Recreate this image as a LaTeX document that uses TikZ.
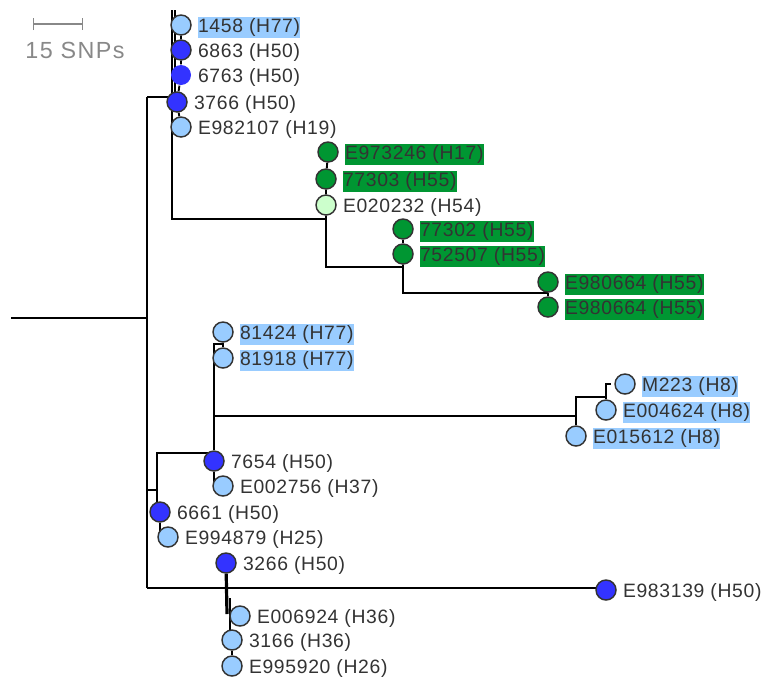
\documentclass[tikz,border=0pt]{standalone}
\usepackage{fontspec}
\setmainfont{Liberation Sans}
\newfontfamily\isofont[LetterSpace=3.5]{Liberation Sans}
\newfontfamily\snpfont[LetterSpace=6]{Liberation Sans}
\usetikzlibrary{arrows.meta,positioning,backgrounds}
\definecolor{hapblue}{RGB}{51,51,255}
\definecolor{haplight}{RGB}{153,204,255}
\definecolor{hapgreen}{RGB}{0,150,50}
\definecolor{happale}{RGB}{204,255,204}
\definecolor{rimgray}{RGB}{51,51,51}
\definecolor{scalegray}{RGB}{136,136,136}

\begin{document}
\begin{tikzpicture}[
    x=0.75pt, y=-0.75pt,
    hap/.style={circle, draw=rimgray, line width=1.1pt, minimum size=15pt, inner sep=0pt},
    lb/.style={hap, fill=haplight},
    bl/.style={hap, fill=hapblue},
    gr/.style={hap, fill=hapgreen},
    pg/.style={hap, fill=happale},
    iso/.style={inner xsep=0pt, inner ysep=0pt, minimum height=15.5pt, yshift=-1.8pt, text=rimgray, font=\isofont\fontsize{14.5}{17}\selectfont},
    hlb/.style={iso, fill=haplight},
    hgr/.style={iso, fill=hapgreen},
    edge/.style={line width=1.4pt, black},
    scalebar/.style={draw=scalegray, line width=1.1pt, {Bar[width=9pt]}-{Bar[width=9pt]}}
]
\useasboundingbox (0,0) rectangle (762,682);

% Scale
\coordinate (sb1) at (33,24);
\coordinate (sb2) at (83,24);
\draw[scalebar] (sb1) -- (sb2);
\node[text=scalegray, font=\snpfont\fontsize{17.5}{20}\selectfont] (scale) at (75,50) {15 SNPs};

% Top group
\node[lb] (t1) at (181,25) {};
\node[hlb, right=4.5pt of t1] (t1l) {1458 (H77)};
\node[bl] (t2) at (181,50) {};
\node[iso, right=4.5pt of t2] (t2l) {6863 (H50)};
\node[bl, draw=none] (t3) at (181,75) {};
\node[iso, right=4.5pt of t3] (t3l) {6763 (H50)};
\node[bl] (t4) at (177,102) {};
\node[iso, right=4.5pt of t4] (t4l) {3766 (H50)};
\node[lb] (t5) at (181,127) {};
\node[iso, right=4.5pt of t5] (t5l) {E982107 (H19)};

% Green group
\node[gr] (g1) at (328,152) {};
\node[hgr, right=4.5pt of g1] (g1l) {E973246 (H17)};
\node[gr] (g2) at (326,179) {};
\node[hgr, right=4.5pt of g2] (g2l) {77303 (H55)};
\node[pg] (g3) at (326,205) {};
\node[iso, right=4.5pt of g3] (g3l) {E020232 (H54)};
\node[gr] (g4) at (403,229) {};
\node[hgr, right=4.5pt of g4] (g4l) {77302 (H55)};
\node[gr] (g5) at (403,254) {};
\node[hgr, right=4.5pt of g5] (g5l) {752507 (H55)};
\node[gr] (g6) at (548,282) {};
\node[hgr, right=4.5pt of g6] (g6l) {E980664 (H55)};
\node[gr] (g7) at (548,307) {};
\node[hgr, right=4.5pt of g7] (g7l) {E980664 (H55)};

% Middle group
\node[lb] (m1) at (223,332) {};
\node[hlb, right=4.5pt of m1] (m1l) {81424 (H77)};
\node[lb] (m2) at (223,358) {};
\node[hlb, right=4.5pt of m2] (m2l) {81918 (H77)};
\node[bl] (m3) at (214,461) {};
\node[iso, right=4.5pt of m3] (m3l) {7654 (H50)};
\node[lb] (m4) at (223,486) {};
\node[iso, right=4.5pt of m4] (m4l) {E002756 (H37)};

% H8 group
\node[lb] (h1) at (625,384) {};
\node[hlb, right=4.5pt of h1] (h1l) {M223 (H8)};
\node[lb] (h2) at (606,410) {};
\node[hlb, right=4.5pt of h2] (h2l) {E004624 (H8)};
\node[lb] (h3) at (576,436) {};
\node[hlb, right=4.5pt of h3] (h3l) {E015612 (H8)};

% Bottom group
\node[bl] (b1) at (160,512) {};
\node[iso, right=4.5pt of b1] (b1l) {6661 (H50)};
\node[lb] (b2) at (168,537) {};
\node[iso, right=4.5pt of b2] (b2l) {E994879 (H25)};
\node[bl] (b3) at (226,563) {};
\node[iso, right=4.5pt of b3] (b3l) {3266 (H50)};
\node[bl] (b4) at (606,590) {};
\node[iso, right=4.5pt of b4] (b4l) {E983139 (H50)};
\node[lb] (b5) at (240,616) {};
\node[iso, right=4.5pt of b5] (b5l) {E006924 (H36)};
\node[lb] (b6) at (232,640) {};
\node[iso, right=4.5pt of b6] (b6l) {3166 (H36)};
\node[lb] (b7) at (232,666) {};
\node[iso, right=4.5pt of b7] (b7l) {E995920 (H26)};

% Junctions
\coordinate (root) at (11,318);
\coordinate (jroot) at (147,318);
\coordinate (jtop) at (147,97);
\coordinate (jbot) at (147,588);
\coordinate (jmid) at (147,490);
\coordinate (topA) at (172,10);
\coordinate (topB) at (175,10);
\coordinate (jg) at (326,219);
\coordinate (jg2) at (326,267);
\coordinate (jg3) at (403,293);
\coordinate (jm1) at (157,490);
\coordinate (jm2) at (157,453);
\coordinate (jm3) at (214,453);
\coordinate (jm4) at (157,512);
\coordinate (jm5) at (214,344);
\coordinate (jm6) at (222,344);
\coordinate (jh) at (214,416);
\coordinate (jh2) at (576,416);
\coordinate (jh3) at (576,397);
\coordinate (jh4) at (606,397);
\coordinate (jh5) at (606,384);
\coordinate (jh6) at (611,384);
\coordinate (jb2) at (227,614);
\coordinate (jb3) at (230,598);

% Branches
\begin{scope}[on background layer]
\draw[edge] (root) -- (jroot);
\draw[edge] (jtop) -- (jbot);
\draw[edge] (jtop) -- (topB |- jtop);
\draw[edge] (topB) -- (topB |- t4);
\draw[edge] (topA) |- (jg);
\draw[edge] (t1) -- (t2) -- (t3) -- (t4) -- (t5);
\draw[edge] (g1) -- (g2) -- (g3) -- (jg) -- (jg2) -| (g5);
\draw[edge] (g4) -- (g5) -- (jg3) -| (g6);
\draw[edge] (g6) -- (g7);
\draw[edge] (jmid) -- (jm1);
\draw[edge] (jm4) -- (jm2) -- (jm3);
\draw[edge] (b1) -- (b1 |- b2);
\draw[edge] (m3) -- (jm5) -- (jm6);
\draw[edge] (m1) -- (m2);
\draw[edge] (m3) -- (m3 |- m4);
\draw[edge] (jh) -- (jh2);
\draw[edge] (h3) -- (jh3) -- (jh4) -- (h2);
\draw[edge] (jh4) -- (jh5) -- (jh6);
\draw[edge] (jbot) -- (jbot -| b4);
\draw[edge, line width=2.4pt] (b3) -- (jb2);
\draw[edge] (jb3) -- (jb3 |- b6);
\draw[edge] (b6) -- (b7);
\end{scope}

\end{tikzpicture}
\end{document}
